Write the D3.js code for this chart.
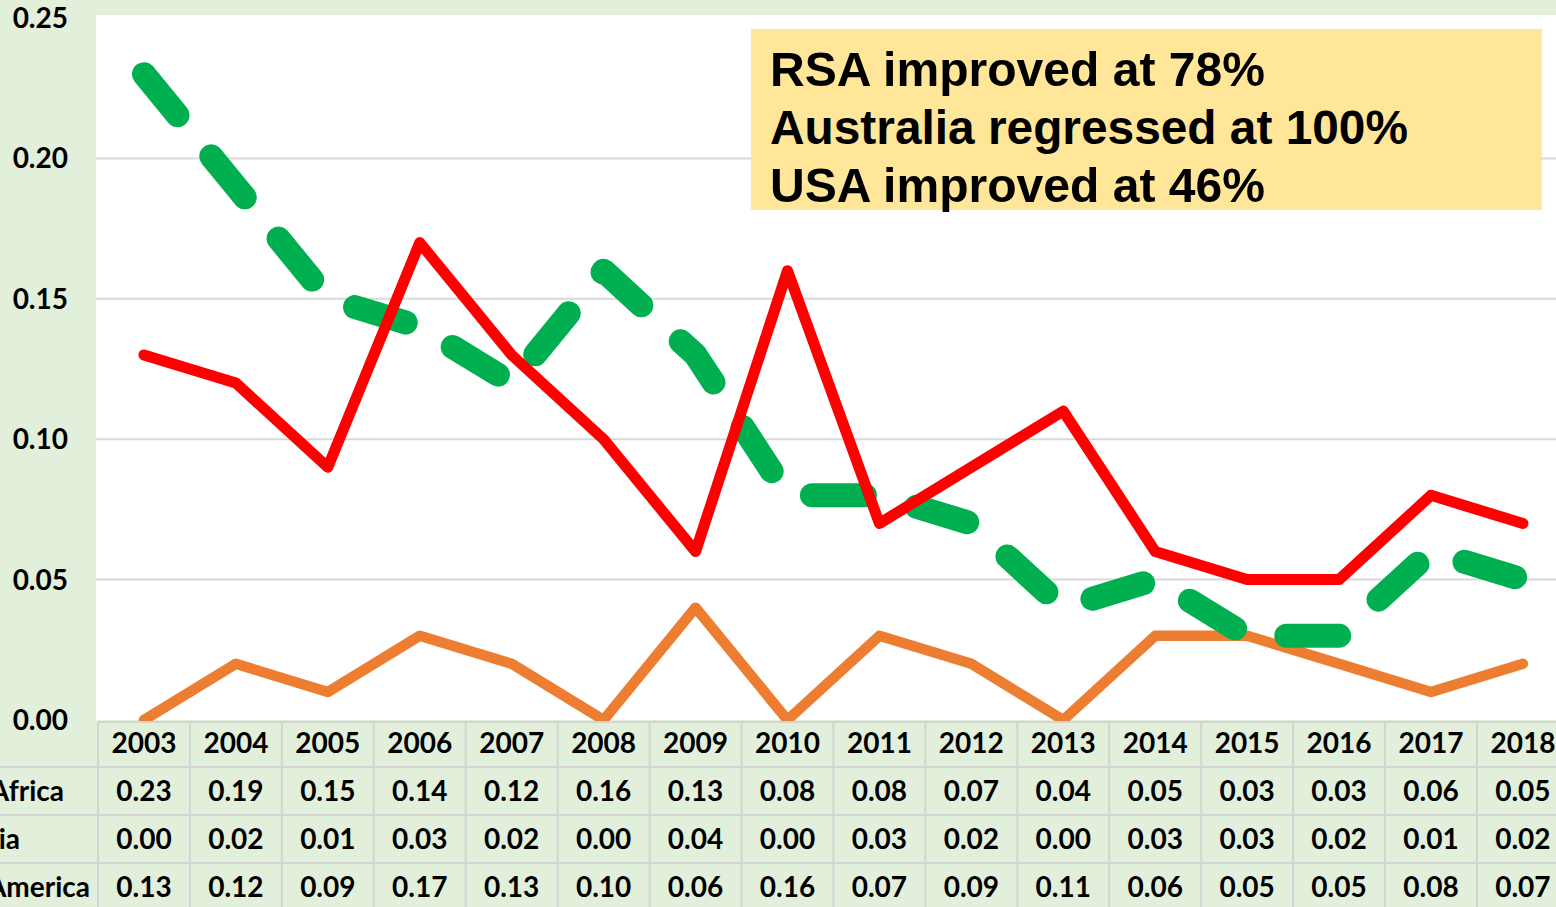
<!DOCTYPE html>
<html>
<head>
<meta charset="utf-8">
<script src="https://cdn.jsdelivr.net/npm/d3@7"></script>
<style>
  html, body { margin: 0; padding: 0; background: #e2efda; overflow: hidden; }
  svg { display: block; }
</style>
</head>
<body>
<div id="chart"></div>
<script>
// chart values
const years = ["2003","2004","2005","2006","2007","2008","2009","2010","2011","2012","2013","2014","2015","2016","2017","2018"];
const southAfrica = [0.23,0.19,0.15,0.14,0.12,0.16,0.13,0.08,0.08,0.07,0.04,0.05,0.03,0.03,0.06,0.05];
const australia   = [0.00,0.02,0.01,0.03,0.02,0.00,0.04,0.00,0.03,0.02,0.00,0.03,0.03,0.02,0.01,0.02];
const america     = [0.13,0.12,0.09,0.17,0.13,0.10,0.06,0.16,0.07,0.09,0.11,0.06,0.05,0.05,0.08,0.07];
const seriesNames = ["South Africa", "Australia", "North America"];
const yTicks = [0, 0.05, 0.10, 0.15, 0.20, 0.25];
const notes = ["RSA improved at 78%", "Australia regressed at 100%", "USA improved at 46%"];

const W = 1556, H = 907;
const font = "Lato, 'Noto Sans', sans-serif";

const svg = d3.select("#chart").append("svg")
  .attr("width", W)
  .attr("height", H);

// background
svg.append("rect").attr("width", W).attr("height", H).attr("fill", "#e2efda");

// scales
const x = d3.scaleBand()
  .domain(years)
  .range([98, 98 + 16 * 91.93]);

const y = d3.scaleLinear()
  .domain([0, 0.25])
  .range([720, 18]);

// plot area
svg.append("rect")
  .attr("x", 96).attr("y", 15)
  .attr("width", W - 96).attr("height", 720 - 15)
  .attr("fill", "#ffffff");

// gridlines
svg.selectAll(".grid")
  .data(yTicks.filter(d => d > 0 && d < 0.25))
  .enter().append("line")
  .attr("x1", 96).attr("x2", W)
  .attr("y1", d => y(d)).attr("y2", d => y(d))
  .attr("stroke", "#d9d9d9")
  .attr("stroke-width", 2);

// lines
const line = d3.line()
  .x((d, i) => x(years[i]) + x.bandwidth() / 2)
  .y(d => y(d));

svg.append("path")
  .datum(australia)
  .attr("d", line)
  .attr("fill", "none")
  .attr("stroke", "#ed7d31")
  .attr("stroke-width", 10.5)
  .attr("stroke-linejoin", "round")
  .attr("stroke-linecap", "round");

svg.append("path")
  .datum(southAfrica)
  .attr("d", line)
  .attr("fill", "none")
  .attr("stroke", "#00b050")
  .attr("stroke-width", 24)
  .attr("stroke-dasharray", "53 53.25")
  .attr("stroke-linejoin", "round")
  .attr("stroke-linecap", "round");

svg.append("path")
  .datum(america)
  .attr("d", line)
  .attr("fill", "none")
  .attr("stroke", "#ff0000")
  .attr("stroke-width", 11)
  .attr("stroke-linejoin", "round")
  .attr("stroke-linecap", "round");

// data table
const rowTops = [722, 767, 815, 863, 911];
const table = svg.append("g");

table.append("rect")
  .attr("x", 0).attr("y", 722)
  .attr("width", W).attr("height", H - 722)
  .attr("fill", "#e2efda");

// horizontal borders
table.append("line")
  .attr("x1", 98).attr("x2", W)
  .attr("y1", rowTops[0]).attr("y2", rowTops[0])
  .attr("stroke", "#d4d4d4").attr("stroke-width", 2);
table.selectAll(".hb")
  .data(rowTops.slice(1, 4))
  .enter().append("line")
  .attr("x1", 0).attr("x2", W)
  .attr("y1", d => d).attr("y2", d => d)
  .attr("stroke", "#d4d4d4").attr("stroke-width", 2);

// vertical borders
table.selectAll(".vb")
  .data(years)
  .enter().append("line")
  .attr("x1", d => x(d)).attr("x2", d => x(d))
  .attr("y1", rowTops[0]).attr("y2", H)
  .attr("stroke", "#d4d4d4").attr("stroke-width", 2);

const cellText = (sel) => sel
  .attr("text-anchor", "middle")
  .attr("font-family", font)
  .attr("font-weight", "bold")
  .attr("font-size", 28)
  .attr("fill", "#000");

// header years
table.selectAll(".yr")
  .data(years)
  .enter().append("text")
  .attr("x", d => x(d) + x.bandwidth() / 2)
  .attr("y", 753)
  .call(cellText)
  .text(d => d);

// value rows
const rows = [southAfrica, australia, america];
rows.forEach((vals, r) => {
  table.selectAll(".v" + r)
    .data(vals)
    .enter().append("text")
    .attr("x", (d, i) => x(years[i]) + x.bandwidth() / 2)
    .attr("y", rowTops[r + 1] + 34)
    .call(cellText)
    .text(d => d.toFixed(2));
});

// row labels (cut off at left edge, as in the source picture)
const labelEnds = [64, 20, 90];
table.selectAll(".rl")
  .data(seriesNames)
  .enter().append("text")
  .attr("x", (d, i) => labelEnds[i])
  .attr("y", (d, i) => rowTops[i + 1] + 34)
  .attr("text-anchor", "end")
  .attr("font-family", font)
  .attr("font-weight", "bold")
  .attr("font-size", 28)
  .attr("fill", "#000")
  .text(d => d);

// y axis labels
svg.selectAll(".ylab")
  .data(yTicks)
  .enter().append("text")
  .attr("x", 68)
  .attr("y", d => y(d) + 10)
  .attr("text-anchor", "end")
  .attr("font-family", font)
  .attr("font-weight", "bold")
  .attr("font-size", 28)
  .attr("fill", "#000")
  .text(d => d.toFixed(2));

// annotation box
const note = svg.append("g");
note.append("rect")
  .attr("x", 751).attr("y", 29)
  .attr("width", 791).attr("height", 181)
  .attr("fill", "#ffe699");

const noteWidths = [495, 638, 495];
note.selectAll("text")
  .data(notes)
  .enter().append("text")
  .attr("x", 770)
  .attr("y", (d, i) => 86 + i * 58)
  .attr("font-family", "'Liberation Sans', Arial, sans-serif")
  .attr("font-weight", "bold")
  .attr("font-size", 48)
  .attr("textLength", (d, i) => noteWidths[i])
  .attr("lengthAdjust", "spacingAndGlyphs")
  .attr("fill", "#000")
  .text(d => d);
</script>
</body>
</html>
